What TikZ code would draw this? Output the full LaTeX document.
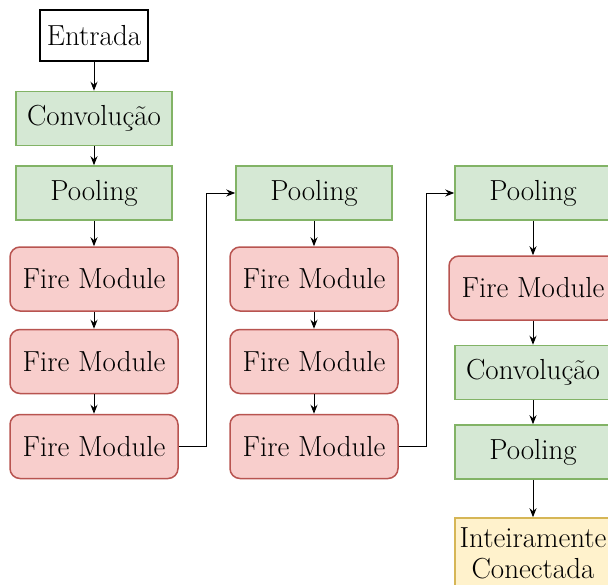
\documentclass[tikz,border=0pt]{standalone}
\usepackage{fontspec}
\usetikzlibrary{arrows.meta}
\definecolor{gfill}{HTML}{D5E8D4}
\definecolor{gline}{HTML}{82B366}
\definecolor{rfill}{HTML}{F8CECC}
\definecolor{rline}{HTML}{B85450}
\definecolor{yfill}{HTML}{FFF2CC}
\definecolor{yline}{HTML}{D6B656}
\begin{document}
\begin{tikzpicture}[x=1pt,y=-1pt,
  base/.style={draw, line width=1.5pt, inner sep=0pt, align=center,
    font=\rmfamily\fontsize{29}{31}\selectfont},
  inbox/.style={base, draw=black, fill=white, minimum width=108pt, minimum height=51pt},
  layer/.style={base, draw=gline, fill=gfill, minimum width=156pt, minimum height=54pt},
  fire/.style={base, draw=rline, fill=rfill, rounded corners=10pt, minimum width=168pt, minimum height=64pt},
  dense/.style={base, draw=yline, fill=yfill, minimum width=156pt, minimum height=70pt},
  link/.style={draw=black, line width=1pt, -{Stealth[length=9pt,width=7pt]}}
]
\useasboundingbox (0,0) rectangle (608,584);
% first column
\node[inbox] (in) at (94,35.5) {Entrada};
\node[layer] (c1) at (94,118.5) {Convolução};
\node[layer] (p1) at (94,193) {Pooling};
\node[fire] (f11) at (94,279) {Fire Module};
\node[fire] (f12) at (94,361.5) {Fire Module};
\node[fire] (f13) at (94,446.5) {Fire Module};
% second column
\node[layer] (p2) at (314,193) {Pooling};
\node[fire] (f21) at (314,279) {Fire Module};
\node[fire] (f22) at (314,361.5) {Fire Module};
\node[fire] (f23) at (314,446.5) {Fire Module};
% third column
\node[layer] (p3) at (533,193) {Pooling};
\node[fire] (f31) at (533,288) {Fire Module};
\node[layer] (c3) at (533,372.5) {Convolução};
\node[layer] (p4) at (533,452) {Pooling};
\node[dense] (fc) at (533,553) {Inteiramente\\Conectada};
% connections
\draw[link] (in) -- (c1);
\draw[link] (c1) -- (p1);
\draw[link] (p1) -- (f11);
\draw[link] (f11) -- (f12);
\draw[link] (f12) -- (f13);
\draw[link] (f13.east) -- ++(28,0) |- (p2.west);
\draw[link] (p2) -- (f21);
\draw[link] (f21) -- (f22);
\draw[link] (f22) -- (f23);
\draw[link] (f23.east) -- ++(28,0) |- (p3.west);
\draw[link] (p3) -- (f31);
\draw[link] (f31) -- (c3);
\draw[link] (c3) -- (p4);
\draw[link] (p4) -- (fc);
\end{tikzpicture}
\end{document}
